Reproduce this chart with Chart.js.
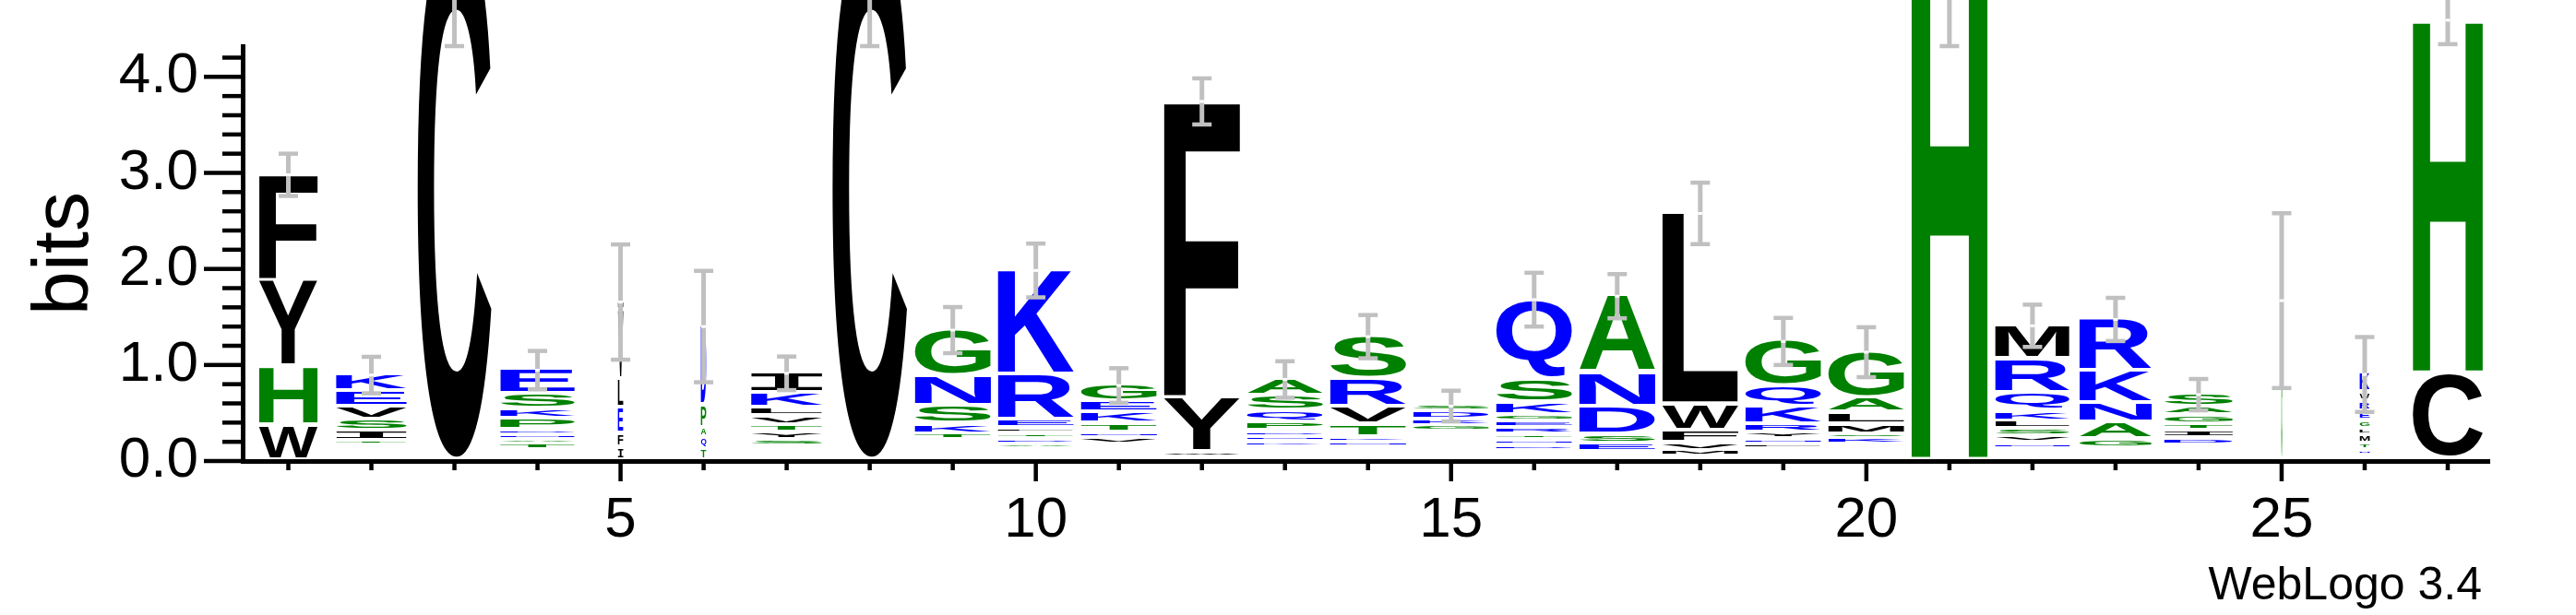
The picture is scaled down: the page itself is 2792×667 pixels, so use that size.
<!DOCTYPE html>
<html><head><meta charset="utf-8">
<script src="https://cdn.jsdelivr.net/npm/chart.js@4"></script>
<style>html,body{margin:0;padding:0;background:#fff;}canvas{display:block;}</style>
</head><body>
<canvas id="c" width="2792" height="667"></canvas>
<script>
// ---- data ----
const positions = [1,2,3,4,5,6,7,8,9,10,11,12,13,14,15,16,17,18,19,20,21,22,23,24,25,26,27];
// letters of each stack, top to bottom
const stackLetters = ["FYHW","KEVSIT","C","ESKPDNAT","MVLEFI","DPAQT","IKLVTYS","C","GNSKT","KRELTDA",
  "GEKTNV","FYW","ASQPDNK","SRVTKN","SDKG","QSKGERTND","ANDSE","LWFVM","GQKRYNL","GALMSK",
  "H","MRQKLSVN","RKNAG","SAGTID","G","KWREGLMTN","HC"];
// bits of each letter, top to bottom
const stackHeights = [
  [1.11,0.90,0.61,0.36],
  [0.18,0.16,0.14,0.115,0.10,0.05],
  [5.6],
  [0.26,0.15,0.105,0.115,0.058,0.048,0.048,0.062],
  [0.096,0.72,0.30,0.27,0.144,0.125],
  [0.825,0.24,0.105,0.115,0.115],
  [0.22,0.155,0.086,0.096,0.077,0.077,0.062],
  [5.6],
  [0.49,0.31,0.19,0.105,0.062],
  [1.10,0.47,0.086,0.058,0.058,0.048,0.058],
  [0.18,0.115,0.115,0.096,0.058,0.062],
  [3.10,0.566,0.058],
  [0.18,0.16,0.115,0.096,0.058,0.048,0.058],
  [0.45,0.29,0.19,0.134,0.048,0.058],
  [0.067,0.086,0.067,0.062],
  [0.835,0.25,0.134,0.067,0.067,0.067,0.058,0.048,0.058],
  [0.806,0.355,0.288,0.096,0.091],
  [2.00,0.28,0.125,0.077,0.062],
  [0.48,0.21,0.19,0.086,0.067,0.048,0.058],
  [0.49,0.154,0.115,0.106,0.038,0.067],
  [5.47],
  [0.355,0.355,0.19,0.105,0.086,0.077,0.067,0.058],
  [0.547,0.336,0.20,0.18,0.091],
  [0.144,0.086,0.096,0.067,0.077,0.072],
  [1.67],
  [0.20,0.096,0.105,0.096,0.086,0.067,0.086,0.067,0.058],
  [3.69,0.89]
];
// bits taken by letters too small to be seen, at the bottom of each stack
const unseenBits = [0,0.15,0,0.10,0,0,0.14,0,0.206,0.106,0.16,0.02,0.134,0.125,0.29,0.096,0.08,0.034,0.106,0.163,0,0.115,0.12,0.149,0,0.04,0.01];
// relative stack widths (share of non-gap sequences)
const stackWidths = [0.77,0.93,0.97,0.98,0.07,0.07,0.94,0.98,1,1,1,1,1,1,1,1,1,1,1,1,1,0.98,0.95,0.9,0.012,0.13,0.92];
// half length of the error bars, bits
const errorBits = [0.22,0.19,1.28,0.20,0.60,0.58,0.175,1.28,0.24,0.28,0.18,0.24,0.19,0.225,0.16,0.28,0.23,0.32,0.245,0.26,1.15,0.22,0.225,0.163,0.91,0.39,0.25];
const yTickLabels = ["0.0","1.0","2.0","3.0","4.0"];
const xTickLabels = ["5","10","15","20","25"];
const footText = "WebLogo 3.4";

// hydrophobicity colour scheme
const colourGroups = [["RKDENQ","#0000ff"],["SGHTAP","#008000"],["YVMCLFIW","#000000"]];
function colourOf(ch){ for (const [s,c] of colourGroups) if (s.includes(ch)) return c; return "#000"; }

const lettersUp = stackLetters.map(s => s.split('').reverse());
const heightsUp = stackHeights.map(a => a.slice().reverse());
const maxRank = Math.max(...lettersUp.map(a => a.length));
const totals = positions.map((p,i) => unseenBits[i] + stackHeights[i].reduce((a,b)=>a+b,0));

const clear = 'rgba(0,0,0,0)';
const datasets = [{label:'unseen', data: positions.map((p,i)=>({x:p,y:unseenBits[i]})), backgroundColor:clear, borderWidth:0, stack:'logo'}];
for (let r=0;r<maxRank;r++){
  datasets.push({label:'rank'+r, data: positions.map((p,i)=>({x:p,y:(heightsUp[i][r] ?? 0)})), backgroundColor:clear, borderWidth:0, stack:'logo'});
}

const FONT = "'Liberation Sans', Arial, Helvetica, sans-serif";

function drawGlyph(ctx, ch, colour, x0, y0, w, h){
  const font = ch === 'I' ? "bold 200px 'DejaVu Sans Mono'" : "bold 200px 'Liberation Sans'";
  ctx.save();
  ctx.font = font;
  ctx.textAlign = 'left'; ctx.textBaseline = 'alphabetic';
  const m = ctx.measureText(ch);
  const L = m.actualBoundingBoxLeft, R = m.actualBoundingBoxRight;
  const A = m.actualBoundingBoxAscent, D = m.actualBoundingBoxDescent;
  ctx.translate(x0, y0);
  ctx.scale(w/(L+R), h/(A+D));
  ctx.fillStyle = colour;
  ctx.fillText(ch, L, A);
  ctx.restore();
}

const logoPlugin = {
  id:'logo',
  afterDatasetsDraw(chart){
    const ctx = chart.ctx, xs = chart.scales.x, ys = chart.scales.y;
    const unit = xs.getPixelForValue(1) - xs.getPixelForValue(0);
    const GAP = 4.5;
    for (let d=1; d<chart.data.datasets.length; d++){
      const meta = chart.getDatasetMeta(d);
      meta.data.forEach((el,i) => {
        const ch = lettersUp[i][d-1];
        if (!ch) return;
        const top = Math.min(el.y, el.base), bot = Math.max(el.y, el.base);
        const seg = bot - top;
        const gh = Math.max(1, seg - GAP);
        const w = unit*0.915*stackWidths[i];
        drawGlyph(ctx, ch, colourOf(ch), el.x - w/2, top, w, gh);
      });
    }
    // error bars
    ctx.save();
    positions.forEach((p,i) => {
      const px = xs.getPixelForValue(p);
      const yt = ys.getPixelForValue(totals[i] + errorBits[i]);
      const yb = ys.getPixelForValue(totals[i] - errorBits[i]);
      const yc = ys.getPixelForValue(totals[i]);
      ctx.fillStyle = '#c0c0c0';
      ctx.fillRect(px-2.5, yt, 5, yb-yt);
      ctx.fillRect(px-10.5, yt-2.25, 21, 4.5);
      ctx.fillRect(px-10.5, yb-2.25, 21, 4.5);
      ctx.fillStyle = '#fff';
      ctx.fillRect(px-2.5, yc-1.5, 5, 3);
    });
    ctx.restore();
  },
  afterDraw(chart){
    const ctx = chart.ctx, xs = chart.scales.x, ys = chart.scales.y;
    ctx.save();
    ctx.fillStyle = '#000';
    for (let k=0;k<=21;k++){
      const py = ys.getPixelForValue(k/5);
      const len = (k%5===0) ? 42 : 22;
      ctx.fillRect(ys.right - len, py - 2.25, len, 4.5);
    }
    positions.forEach(p => {
      const px = xs.getPixelForValue(p);
      const len = (p%5===0) ? 22 : 10;
      ctx.fillRect(px - 2.25, xs.top, 4.5, len);
    });
    ctx.font = "50px " + FONT;
    ctx.textAlign = 'right'; ctx.textBaseline = 'alphabetic';
    ctx.fillText(footText, 2690, 650);
    ctx.restore();
  }
};

new Chart(document.getElementById('c'), {
  type:'bar',
  data:{datasets},
  plugins:[logoPlugin],
  options:{
    responsive:false, animation:false, devicePixelRatio:1,
    layout:{padding:{top:50,right:94,left:0,bottom:0}},
    plugins:{legend:{display:false}, tooltip:{enabled:false}},
    scales:{
      x:{type:'linear', min:0.45, max:27.5, stacked:true, offset:false,
        grid:{display:false, drawTicks:false},
        border:{display:true, width:5, color:'#000'},
        afterBuildTicks: s => { s.ticks = positions.map(v => ({value:v})); },
        afterFit: s => { s.height = 167; },
        ticks:{autoSkip:false, maxRotation:0, minRotation:0, padding:28, color:'#000',
          font:{family:FONT, size:62},
          callback: v => { const j = xTickLabels.indexOf(String(v)); return j>=0 ? xTickLabels[j] : ''; }}
      },
      y:{min:0, max:4.32, stacked:true,
        grid:{display:false, drawTicks:false},
        border:{display:true, width:5, color:'#000'},
        afterBuildTicks: s => { s.ticks = yTickLabels.map((t,k)=>({value:k})); },
        afterFit: s => { s.width = 263; },
        ticks:{padding:48, color:'#000', font:{family:FONT, size:62, lineHeight:0.02},
          callback: v => yTickLabels[v] ?? ''},
        title:{display:true, text:'bits', color:'#000', font:{family:FONT, size:86}, padding:{top:20,bottom:0}}
      }
    }
  }
});
</script>
</body></html>
